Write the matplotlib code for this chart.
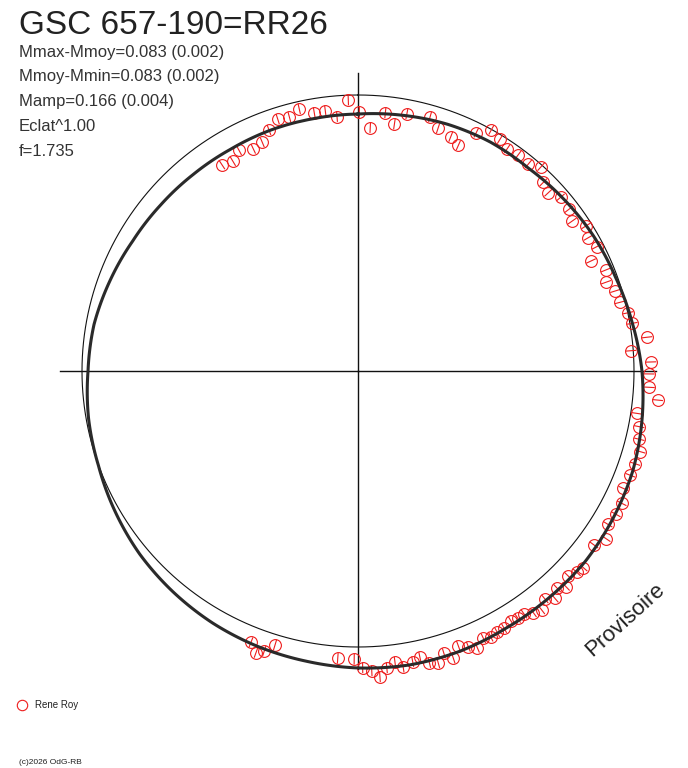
import numpy as np
import matplotlib
matplotlib.use("Agg")
import matplotlib.pyplot as plt
from matplotlib.lines import Line2D

# ---------------- data (phase 0..1, clockwise from top; dmag relative to mean) ----------
PT_PHASE = [0.9943, 0.0008, 0.0080, 0.0168, 0.0233, 0.0299, 0.0440, 0.0507, 0.0600, 0.0666,
            0.0733, 0.0804, 0.0875, 0.0941, 0.1015, 0.1096, 0.1163, 0.1236, 0.1302, 0.1372,
            0.1459, 0.1528, 0.1598, 0.1665, 0.1736, 0.1798, 0.1884, 0.1953, 0.2020, 0.2092,
            0.2162, 0.2226, 0.2315, 0.2382, 0.2451, 0.2516, 0.2589, 0.2654, 0.2740, 0.2811,
            0.2879, 0.2943, 0.3014, 0.3082, 0.3163, 0.3240, 0.3307, 0.3376, 0.3446, 0.3511,
            0.3642, 0.3684, 0.3730, 0.3779, 0.3819, 0.3864, 0.3907, 0.3957, 0.4001, 0.4046,
            0.4087, 0.4126, 0.4178, 0.4221, 0.4263, 0.4302, 0.4352, 0.4394, 0.4443, 0.4490,
            0.4530, 0.4573, 0.4618, 0.4661, 0.4704, 0.4759, 0.4799, 0.4846, 0.4886, 0.4927,
            0.4975, 0.5021, 0.5112, 0.5468, 0.5514, 0.5553, 0.5598, 0.9072, 0.9144, 0.9213,
            0.9299, 0.9369, 0.9437, 0.9509, 0.9580, 0.9649, 0.9733, 0.9801, 0.9869]
PT_DMAG = [-0.020, -0.072, -0.134, -0.068, -0.110, -0.059, -0.050, -0.085, -0.100, -0.120,
           -0.041, -0.002, -0.017, -0.034, -0.030, -0.033, -0.007, -0.048, -0.063, -0.038,
           -0.042, -0.060, -0.024, -0.041, -0.029, -0.076, -0.034, -0.052, -0.027, -0.021,
           0.002, 0.010, 0.062, -0.009, 0.071, 0.063, 0.066, 0.104, 0.024, 0.044,
           0.056, 0.073, 0.067, 0.065, 0.059, 0.079, 0.079, 0.071, 0.097, 0.071,
           0.096, 0.088, 0.073, 0.098, 0.078, 0.103, 0.078, 0.105, 0.094, 0.076,
           0.076, 0.069, 0.082, 0.083, 0.087, 0.080, 0.105, 0.087, 0.068, 0.111,
           0.079, 0.112, 0.101, 0.070, 0.082, 0.098, 0.073, 0.092, 0.127, 0.100,
           0.086, 0.051, 0.050, 0.043, 0.080, 0.098, 0.065, -0.120, -0.132, -0.105,
           -0.126, -0.117, -0.079, -0.048, -0.054, -0.031, -0.058, -0.058, -0.086]
PT_ERR = 0.022

# fitted curve read every 10 degrees of phase
FIT_PHASE = [i / 36 for i in range(36)]
FIT_DMAG = [-0.079, -0.068, -0.056, -0.048, -0.046, -0.033, -0.019, -0.008, 0.010, 0.033,
            0.051, 0.068, 0.077, 0.085, 0.085, 0.086, 0.092, 0.093, 0.087, 0.078,
            0.071, 0.062, 0.050, 0.037, 0.019, 0.001, -0.010, -0.025, -0.033, -0.050,
            -0.066, -0.075, -0.081, -0.084, -0.082, -0.082]

TITLE = "GSC 657-190=RR26"
INFO = ["Mmax-Mmoy=0.083 (0.002)", "Mmoy-Mmin=0.083 (0.002)", "Mamp=0.166 (0.004)",
        "Eclat^1.00", "f=1.735"]
OBSERVER = "Rene Roy"
STAMP = "Provisoire"
COPYRIGHT = "(c)2026 OdG-RB"

# ---------------- layout -------------------------------------------------------------
W, H = 688, 768
CX, CY = 358, 371          # centre of the polar diagram (px)
R_MEAN = 276               # radius of mean-magnitude circle (px)
PX_PER_MAG = 241
R_BOX = 320                # radius of axes box (px)
R_CROSS = 298              # length of cross lines (px)
RED = "#ee1c1c"
DARK = "#2a2a2a"

plt.rcParams["font.family"] = ["Liberation Sans", "DejaVu Sans"]

fig = plt.figure(figsize=(W / 100, H / 100), dpi=100)
ax = fig.add_axes([(CX - R_BOX) / W, (H - CY - R_BOX) / H, 2 * R_BOX / W, 2 * R_BOX / H],
                  projection="polar")
ax.set_theta_zero_location("N")
ax.set_theta_direction(-1)
rmin = -R_MEAN / PX_PER_MAG
rmax = (R_BOX - R_MEAN) / PX_PER_MAG
ax.set_rlim(rmin, rmax)
ax.axis("off")

# cross
rc = (R_CROSS - R_MEAN) / PX_PER_MAG
for deg in (0, 90, 180, 270):
    t = np.deg2rad(deg)
    ax.plot([t, t], [rmin, rc], color="#111111", lw=1.0, zorder=1)

# mean circle
tt = np.linspace(0, 2 * np.pi, 721)
ax.plot(tt, np.zeros_like(tt), color="#111111", lw=0.8, zorder=1)

# observations
th = 2 * np.pi * np.array(PT_PHASE)
ax.errorbar(th, PT_DMAG, yerr=PT_ERR, fmt="o", ms=8.5, mfc="none", mec=RED, mew=0.8,
            ecolor=RED, elinewidth=0.8, capsize=0, zorder=2)

# fit (polar path drawn with the projection's own curved interpolation)
fth = 2 * np.pi * np.array(FIT_PHASE + [1.0])
fdm = np.array(FIT_DMAG + [FIT_DMAG[0]])
fit_line, = ax.plot(fth, fdm, color=DARK, lw=2.2, zorder=3)
fit_line.get_path()._interpolation_steps = 12

# texts
fig.text(19 / W, 1 - 33.5 / H, TITLE, fontsize=24, color="#222222", va="baseline", ha="left")
for i, s in enumerate(INFO):
    fig.text(19 / W, 1 - (56.5 + 24.8 * i) / H, s, fontsize=12, color="#333333",
             va="baseline", ha="left")

fig.text(625 / W, 1 - 620 / H, STAMP, fontsize=16, color="#222222", rotation=42,
         ha="center", va="center", rotation_mode="anchor")

fig.add_artist(Line2D([22 / W], [1 - 705 / H], marker="o", ms=7.5, mfc="none", mec=RED,
                      mew=0.8, linestyle="none", transform=fig.transFigure))
fig.text(35 / W, 1 - 705 / H, OBSERVER, fontsize=7, color="#222222", va="center", ha="left")
fig.text(19 / W, 1 - 762 / H, COPYRIGHT, fontsize=6, color="#222222", va="center", ha="left")

fig.savefig("out.png", dpi=100, facecolor="white")
